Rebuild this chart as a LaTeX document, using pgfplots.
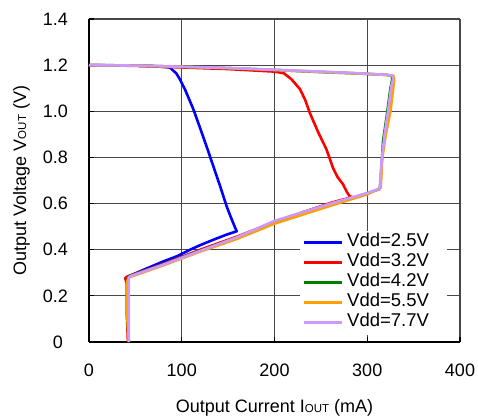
\documentclass[border=0pt]{standalone}
\usepackage{fontspec}
\setmainfont{Liberation Sans}
\usepackage{pgfplots}
\pgfplotsset{compat=1.18}
\definecolor{cblue}{HTML}{0000FF}
\definecolor{cred}{HTML}{FF0000}
\definecolor{cgreen}{HTML}{008000}
\definecolor{corange}{HTML}{FFA000}
\definecolor{cpurple}{HTML}{CC99FF}
\newcommand{\sub}[1]{{\fontsize{11.5}{11.5}\selectfont #1}}
\begin{document}
\begin{tikzpicture}
\useasboundingbox (-89pt,-73pt) rectangle (389pt,342pt);
\begin{axis}[
  scale only axis, width=371pt, height=323pt,
  xmin=0, xmax=400, ymin=0, ymax=1.4,
  xtick={0,100,200,300}, xticklabels={0,100,200,300},
  extra x ticks={400}, extra x tick labels={400},
  extra x tick style={grid style={color=black!50, line width=2pt}},
  ytick={0,0.2,0.4,0.6,0.8,1.0,1.2},
  yticklabels={0\kern5pt,0.2,0.4,0.6,0.8,1.0,1.2},
  extra y ticks={1.4}, extra y tick labels={1.4},
  extra y tick style={grid style={color=black!50, line width=2pt}},
  grid=major, major grid style={color=black!72, line width=1.2pt},
  axis lines=left, axis line style={-, black, line width=1.4pt},
  tick align=inside, major tick length=5pt, tick style={black, line width=1.1pt},
  tick label style={font=\fontsize{18}{20}\selectfont},
  xticklabel style={anchor=base, yshift=-34.7pt, inner sep=0pt},
  yticklabel style={anchor=east, xshift=-21pt, inner sep=0pt},
  xlabel={Output Current I\sub{OUT} (mA)},
  ylabel={Output Voltage V\sub{OUT} (V)},
  label style={font=\fontsize{18}{20}\selectfont},
  xlabel style={at={(axis description cs:0.5,0)}, anchor=base, yshift=-70.7pt, inner sep=0pt},
  ylabel style={at={(axis description cs:-0.1698,0.5)}, anchor=base, inner sep=0pt},
  legend style={at={(axis description cs:0.5687,0.345)}, anchor=north west, draw=none, fill=white,
    font=\fontsize{18.5}{20}\selectfont, inner sep=2pt, row sep=0pt,
    nodes={inner sep=0pt, text height=14pt, text depth=6pt}},
  legend cell align=left,
  legend image code/.code={\draw[#1, line width=3pt] (0pt,0pt) -- (38pt,0pt);},
  every axis plot/.append style={line width=2.6pt, line join=round},
]
\addplot[cblue] coordinates {
(0,1.200) (40,1.199) (70,1.196) (87,1.190) (94,1.165) (98,1.139) (104,1.090)
(112.5,1.009) (120,0.925) (127,0.845) (134,0.762) (141,0.680) (148.4,0.588)
(154,0.530) (159.2,0.480) (148,0.465) (134,0.443) (120,0.420) (109,0.400)
(95,0.372) (80,0.349) (60,0.315) (42.4,0.284) (42.4,0.0)};
\addlegendentry{\kern4pt Vdd=2.5V\kern16pt}
\addplot[cred] coordinates {
(0,1.200) (50,1.197) (100,1.190) (150,1.183) (200,1.172) (210,1.165) (218,1.140)
(227.5,1.096) (233,1.050) (238,0.994) (247,0.910) (256,0.835) (260,0.790) (263,0.755)
(268,0.715) (274,0.683) (278,0.650) (281,0.632) (284,0.628) (263,0.606) (230,0.562)
(200,0.520) (159,0.456) (120,0.400) (80,0.338) (42,0.285) (39,0.277) (41,0.250)
(41,0.100) (42,0.0)};
\addlegendentry{\kern4pt Vdd=3.2V}
\addplot[cgreen] coordinates {
(0,1.200) (50,1.198) (100,1.193) (150,1.187) (200,1.179) (250,1.170) (290,1.164)
(320,1.158) (326,1.155) (327,1.140) (325,1.100) (321,0.980) (317,0.870) (316,0.800)
(315,0.740) (314,0.680) (313,0.662) (290,0.632) (263,0.601) (200,0.520) (159,0.452)
(120,0.396) (80,0.336) (42.5,0.284) (41,0.260) (41,0.120) (43,0.0)};
\addlegendentry{\kern4pt Vdd=4.2V}
\addplot[corange] coordinates {
(0,1.200) (50,1.198) (100,1.193) (150,1.187) (200,1.179) (250,1.171) (290,1.164)
(320,1.158) (328,1.155) (329,1.140) (328,1.100) (325,1.000) (320,0.900) (316,0.790)
(315,0.700) (314.5,0.668) (300,0.640) (263,0.594) (200,0.513) (159,0.446)
(120,0.392) (80,0.332) (43,0.280) (41,0.260) (41,0.120) (43,0.0)};
\addlegendentry{\kern4pt Vdd=5.5V}
\addplot[cpurple] coordinates {
(0,1.200) (50,1.198) (100,1.193) (150,1.188) (200,1.180) (250,1.172) (290,1.165)
(320,1.158) (327,1.155) (328,1.140) (326,1.110) (322.7,1.009) (319,0.907)
(315.6,0.791) (314,0.700) (313.7,0.665) (300,0.646) (263,0.603) (200,0.525)
(159,0.453) (120,0.395) (80,0.335) (45,0.286) (43,0.280) (43,0.0)};
\addlegendentry{\kern4pt Vdd=7.7V}
\end{axis}
\end{tikzpicture}
\end{document}
